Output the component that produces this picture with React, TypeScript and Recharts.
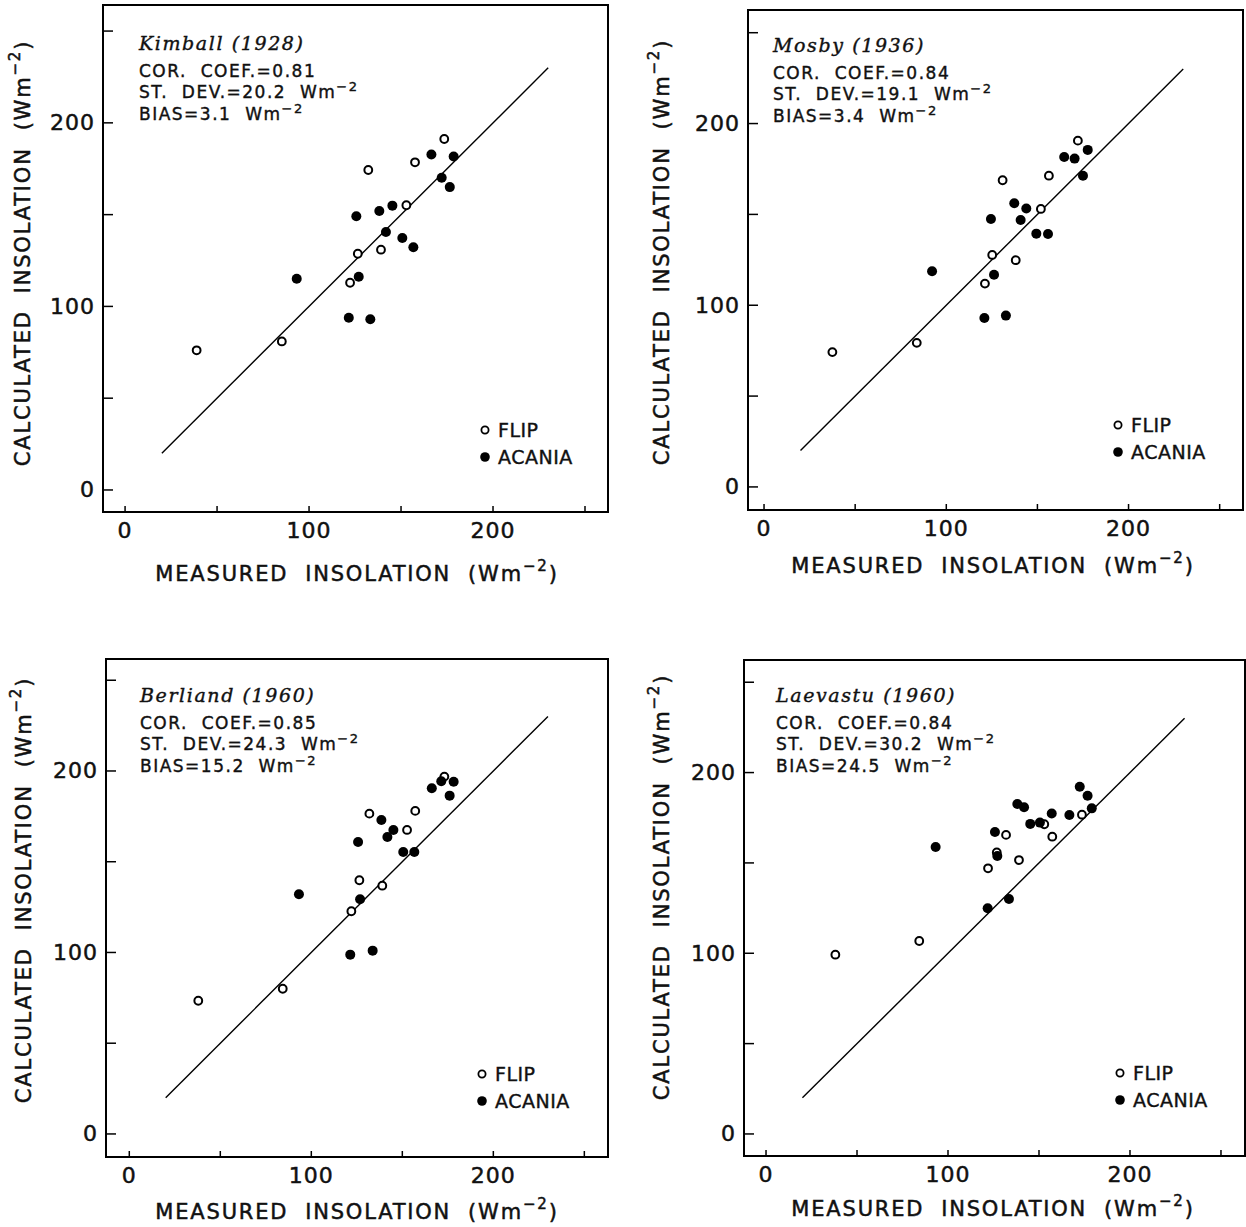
import React from 'react';
import { ScatterChart, Scatter, XAxis, YAxis, ReferenceArea, ReferenceLine, Legend } from 'recharts';

const SANS = '"DejaVu Sans", sans-serif';
const SERIF = '"DejaVu Serif", serif';
const W = 1246;
const H = 1227;
const INK = '#111';

const tickValues = [0, 50, 100, 150, 200, 250];
const labeledTicks = [0, 100, 200];
const oneToOne = [20, 230];
const seriesNames = ['FLIP', 'ACANIA'];

const schemeTitles = ['Kimball (1928)', 'Mosby (1936)', 'Berliand (1960)', 'Laevastu (1960)'];
const corCoef = ['0.81', '0.84', '0.85', '0.84'];
const stDev = ['20.2', '19.1', '24.3', '30.2'];
const bias = ['3.1', '3.4', '15.2', '24.5'];

// [measured, calculated] in W m-2
const kimballFlip = [[173.5, 191.2], [157.6, 178.5], [132.2, 174.3], [152.9, 155.1], [126.5, 128.7], [139.1, 130.9], [122.3, 112.9], [38.9, 76.1], [85.2, 80.9]];
const kimballAcania = [[166.5, 182.8], [178.6, 181.7], [172.1, 170.1], [176.5, 165.0], [125.7, 149.1], [138.2, 152.0], [145.3, 154.9], [141.8, 140.5], [150.7, 137.3], [156.7, 132.2], [127.0, 116.2], [93.3, 115.1], [121.6, 93.8], [133.3, 93.0]];

const mosbyFlip = [[172.2, 190.6], [156.3, 171.3], [130.9, 168.8], [151.9, 153.0], [125.2, 127.7], [138.1, 124.8], [121.2, 111.9], [37.5, 74.2], [83.8, 79.3]];
const mosbyAcania = [[164.7, 181.6], [170.4, 180.7], [177.6, 185.5], [175.0, 171.3], [137.3, 156.1], [143.9, 153.2], [124.5, 147.5], [140.8, 146.9], [149.4, 139.4], [155.8, 139.2], [126.2, 116.8], [92.2, 118.7], [120.9, 93.0], [132.7, 94.3]];

const berliandFlip = [[173.1, 196.9], [131.9, 176.5], [157.1, 178.0], [152.6, 167.5], [126.4, 139.8], [139.0, 136.8], [122.0, 122.7], [37.9, 73.4], [84.3, 80.0]];
const berliandAcania = [[166.2, 190.5], [171.4, 194.3], [178.2, 194.1], [176.0, 186.4], [138.5, 173.0], [145.1, 167.5], [141.8, 163.6], [125.7, 160.9], [150.5, 155.4], [156.6, 155.4], [126.8, 129.3], [93.2, 132.1], [121.4, 98.8], [133.7, 101.0]];

const laevastuFlip = [[173.6, 176.7], [152.9, 171.4], [131.9, 165.5], [157.3, 164.5], [139.0, 151.6], [122.0, 147.0], [126.8, 155.8], [84.2, 106.8], [38.1, 99.2]];
const laevastuAcania = [[172.4, 192.2], [176.7, 187.2], [179.0, 180.2], [138.1, 182.6], [141.8, 180.8], [157.0, 177.3], [166.7, 176.5], [145.2, 171.6], [150.5, 172.3], [125.8, 167.1], [127.1, 153.8], [93.2, 158.8], [121.8, 124.9], [133.5, 130.0]];

const flipSets = [kimballFlip, mosbyFlip, berliandFlip, laevastuFlip];
const acaniaSets = [kimballAcania, mosbyAcania, berliandAcania, laevastuAcania];

// page placement of each panel (frame = plot box l, t, r, b)
const layouts = [
  { frame: [103, 5, 608, 512], xDom: [-12, 262.5], yDom: [-12, 264.2], text: [139, 50], yTitle: [23, 253], xTitle: [357, 574], legend: [485, 430] },
  { frame: [748, 10, 1243, 510], xDom: [-8.8, 262.8], yDom: [-12.7, 262.5], text: [773, 52], yTitle: [662, 252], xTitle: [993, 566], legend: [1118, 425] },
  { frame: [106, 659, 608, 1157], xDom: [-12.8, 263], yDom: [-12.7, 261.7], text: [140, 702], yTitle: [24, 890], xTitle: [357, 1212], legend: [482, 1074] },
  { frame: [744, 660, 1245, 1156], xDom: [-12.1, 263.2], yDom: [-12.2, 262.3], text: [776, 702], yTitle: [662, 887], xTitle: [993, 1209], legend: [1120, 1073] },
];

const toPts = (rows: number[][]) => rows.map(([x, y]) => ({ x, y }));

const tickText = { fontFamily: SANS, fontSize: 22, letterSpacing: 1, fill: INK, stroke: INK, strokeWidth: 0.5 };

const XTick = (props: any) => {
  const { x, y, payload } = props;
  return (
    <g>
      <line x1={x} x2={x} y1={y} y2={y - 6} stroke="#000" strokeWidth={1.5} />
      {labeledTicks.includes(payload.value) && (
        <text x={x} y={y + 18} textAnchor="middle" dominantBaseline="central" style={tickText}>
          {payload.value}
        </text>
      )}
    </g>
  );
};

const YTick = (props: any) => {
  const { x, y, payload } = props;
  return (
    <g>
      <line x1={x} x2={x + 10} y1={y} y2={y} stroke="#000" strokeWidth={1.5} />
      {labeledTicks.includes(payload.value) && (
        <text x={x - 8} y={y} textAnchor="end" dominantBaseline="central" style={tickText}>
          {payload.value}
        </text>
      )}
    </g>
  );
};

const OpenDot = (p: any) => <circle cx={p.cx} cy={p.cy} r={3.9} fill="#fff" stroke="#000" strokeWidth={2} />;
const FilledDot = (p: any) => <circle cx={p.cx} cy={p.cy} r={5} fill="#000" />;

const titleStyle = { fontFamily: SANS, fontSize: 21, letterSpacing: 1.8, fill: INK, stroke: INK, strokeWidth: 0.5, whiteSpace: 'pre' as const };
const noteStyle = { fontFamily: SANS, fontSize: 17, letterSpacing: 1.5, fill: INK, stroke: INK, strokeWidth: 0.4, whiteSpace: 'pre' as const };

function Panel({ idx }: { idx: number }) {
  const L = layouts[idx];
  const [fl, ft, fr, fb] = L.frame;
  const [tx, ty] = L.text;
  const [ycx, ycy] = L.yTitle;
  const [xcx, xcy] = L.xTitle;

  const renderNote = () => (
    <g>
      <text x={tx} y={ty} fontFamily={SERIF} fontStyle="italic" fontSize={19} letterSpacing={1.6} fill={INK} stroke={INK} strokeWidth={0.4} style={{ whiteSpace: 'pre' }}>
        {schemeTitles[idx]}
      </text>
      <text x={tx} y={ty + 27} style={noteStyle}>{`COR.  COEF.=${corCoef[idx]}`}</text>
      <text x={tx} y={ty + 48} style={noteStyle}>
        {`ST.  DEV.=${stDev[idx]}  Wm`}
        <tspan dy={-7} fontSize={13}>−2</tspan>
      </text>
      <text x={tx} y={ty + 70} style={noteStyle}>
        {`BIAS=${bias[idx]}  Wm`}
        <tspan dy={-7} fontSize={13}>−2</tspan>
      </text>
    </g>
  );

  const renderXTitle = () => (
    <text x={xcx} y={xcy} textAnchor="middle" dominantBaseline="central" style={titleStyle}>
      {'MEASURED  INSOLATION  (Wm'}
      <tspan dy={-8} fontSize={15}>−2</tspan>
      <tspan dy={8}>)</tspan>
    </text>
  );

  const renderYTitle = () => (
    <text x={ycx} y={ycy} transform={`rotate(-90 ${ycx} ${ycy})`} textAnchor="middle" dominantBaseline="central" style={titleStyle}>
      {'CALCULATED  INSOLATION  (Wm'}
      <tspan dy={-8} fontSize={15}>−2</tspan>
      <tspan dy={8}>)</tspan>
    </text>
  );

  const renderLegend = () => (
    <div style={{ fontFamily: SANS, fontSize: 19, color: INK, letterSpacing: 0.5, WebkitTextStroke: '0.4px #111' }}>
      {seriesNames.map((n, i) => (
        <div key={n} style={{ display: 'flex', alignItems: 'center', height: 27 }}>
          <svg width={12} height={12}>
            {i === 0 ? <circle cx={6} cy={6} r={3.6} fill="#fff" stroke="#000" strokeWidth={1.8} /> : <circle cx={6} cy={6} r={4.8} fill="#000" />}
          </svg>
          <span style={{ marginLeft: 7 }}>{n}</span>
        </div>
      ))}
    </div>
  );

  return (
    <div style={{ position: 'absolute', left: 0, top: 0 }}>
      <ScatterChart width={W} height={H} margin={{ top: ft, left: fl - 60, right: W - fr, bottom: H - fb - 30 }}>
        <XAxis type="number" dataKey="x" domain={L.xDom} allowDataOverflow ticks={tickValues} interval={0}
          tickSize={0} tickMargin={0} tickLine={false} axisLine={false} tick={XTick} height={30} label={renderXTitle} />
        <YAxis type="number" dataKey="y" domain={L.yDom} allowDataOverflow ticks={tickValues} interval={0}
          tickSize={0} tickMargin={0} tickLine={false} axisLine={false} tick={YTick} width={60} label={renderYTitle} />
        <ReferenceArea x1={L.xDom[0]} x2={L.xDom[1]} y1={L.yDom[0]} y2={L.yDom[1]} fill="none" stroke="#000" strokeWidth={2} label={renderNote} />
        <ReferenceLine segment={[{ x: oneToOne[0], y: oneToOne[0] }, { x: oneToOne[1], y: oneToOne[1] }]} stroke="#000" strokeWidth={1.4} />
        <Scatter name={seriesNames[0]} data={toPts(flipSets[idx])} shape={OpenDot} isAnimationActive={false} />
        <Scatter name={seriesNames[1]} data={toPts(acaniaSets[idx])} shape={FilledDot} isAnimationActive={false} />
        <Legend layout="vertical" align="center" verticalAlign="middle" content={renderLegend}
          wrapperStyle={{ left: L.legend[0] - 6, top: L.legend[1] - 13.5, width: 130, height: 54 }} />
      </ScatterChart>
    </div>
  );
}

export default function App() {
  return (
    <div style={{ position: 'absolute', left: 0, top: 0, width: W, height: H, overflow: 'hidden', background: '#fff' }}>
      {layouts.map((_, i) => (
        <Panel key={i} idx={i} />
      ))}
    </div>
  );
}
